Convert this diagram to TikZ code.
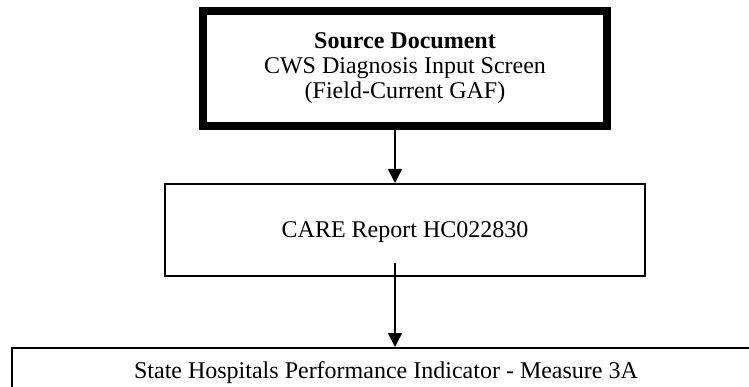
\documentclass[tikz,border=0pt]{standalone}
\usepackage{fontspec}
\setmainfont{Liberation Serif}
\usetikzlibrary{arrows.meta}

\begin{document}
\begin{tikzpicture}[x=1pt,y=-1pt,line join=miter,
  flowbox/.style={draw,line width=2pt,rectangle,align=center,inner sep=0pt,font=\fontsize{24}{25}\selectfont},
  srcbox/.style={flowbox,line width=8pt},
  flowarrow/.style={line width=1.4pt,-{Triangle[width=14pt,length=14pt]}}]
  \useasboundingbox (0,0) rectangle (749,387); \clip (0,0) rectangle (749,387);
  \node[srcbox,minimum width=404pt,minimum height=115pt] (src) at (405,68.5) {\textbf{Source Document}\\CWS Diagnosis Input Screen\\(Field-Current GAF)};
  \node[flowbox,minimum width=480pt,minimum height=92pt,text depth=-11pt] (care) at (405,230) {CARE Report HC022830};
  \node[flowbox,anchor=north west,minimum width=748pt,inner ysep=14pt,text depth=80pt] (ind) at (11,347) {State Hospitals Performance Indicator - Measure 3A};
  \draw[flowarrow] ([xshift=-10pt]src.south) -- ([xshift=-10pt]care.north);
  \coordinate (tail) at ([xshift=-10pt,yshift=14pt]care.south);
  \draw[flowarrow] (tail) -- (tail |- ind.north);
\end{tikzpicture}
\end{document}
